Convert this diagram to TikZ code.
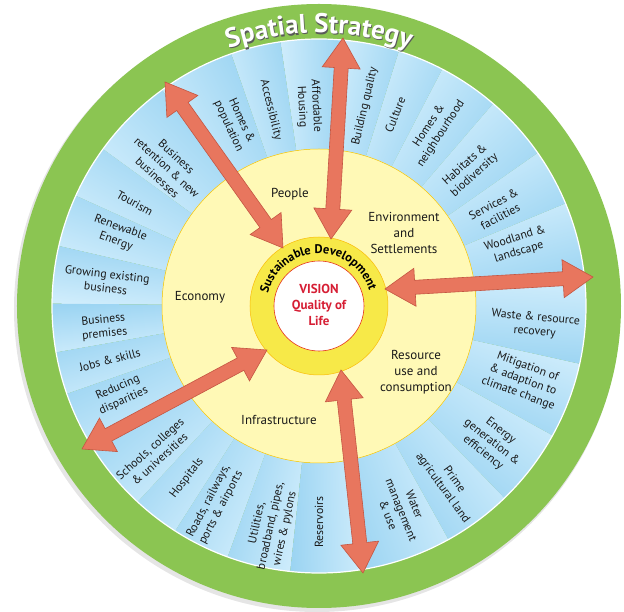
\documentclass[tikz,border=0pt]{standalone}
\usepackage{fontspec}
\setmainfont{PT Sans}
\usepackage{tikz}
\usetikzlibrary{calc}
\usetikzlibrary{decorations.text}

\definecolor{ringgreen}{RGB}{139,197,82}
\definecolor{ringblue}{RGB}{155,212,242}
\definecolor{ringbluelight}{RGB}{208,237,252}
\definecolor{paleyellow}{RGB}{255,249,182}
\definecolor{coreyellow}{RGB}{247,233,72}
\definecolor{arrowfill}{RGB}{232,118,94}
\definecolor{arrowline}{RGB}{196,86,66}
\definecolor{visionred}{RGB}{214,30,52}

\newcommand{\bigarrow}[2]{%
  \filldraw[fill=arrowfill, draw=arrowline, line width=0.6pt]
    (#1) -- ($(#1)!30pt!(#2)!19pt!-90:(#2)$) -- ($(#1)!30pt!(#2)!7pt!-90:(#2)$)
    -- ($(#2)!30pt!(#1)!7pt!90:(#1)$) -- ($(#2)!30pt!(#1)!19pt!90:(#1)$)
    -- (#2) -- ($(#2)!30pt!(#1)!19pt!-90:(#1)$) -- ($(#2)!30pt!(#1)!7pt!-90:(#1)$)
    -- ($(#1)!30pt!(#2)!7pt!90:(#2)$) -- ($(#1)!30pt!(#2)!19pt!90:(#2)$) -- cycle;}

\begin{document}
\begin{tikzpicture}[x=1pt, y=1pt,
    blurb/.style={font=\fontsize{11.8}{14.2}\selectfont, align=center, text=black!90},
    theme/.style={font=\fontsize{13}{15.8}\selectfont, align=center, text=black!90}]
    \useasboundingbox (-319,-306) rectangle (305,306);

    \fill[black!10] (-2,-3) circle (303);
    \fill[ringgreen] (0,0) circle (302);
    \foreach \s/\e in {-80/-61, -61/-46, -46/-29, -29/-12.5, -12.5/6, 6/22.6,
        22.6/35, 35/49.3, 49.3/62.5, 62.5/72.6, 72.6/85, 85/98.3, 98.3/109.2,
        109.2/126, 126/144, 144/155.6, 155.6/167, 167/179.5, 179.5/190,
        190/199.2, 199.2/213, 213/227.2, 227.2/237.4, 237.4/250, 250/263.8,
        263.8/280} {
        \pgfmathsetmacro{\m}{(\s+\e)/2}
        \shade[top color=ringbluelight, bottom color=ringblue, shading angle=\m]
            (\s:157) arc[start angle=\s, end angle=\e, radius=157]
            -- (\e:267) arc[start angle=\e, end angle=\s, radius=267] -- cycle;
    }
    \draw[white, line width=1.2pt] (0,0) circle (267);
    \filldraw[fill=paleyellow, draw=yellow!60!orange, line width=0.5pt] (0,0) circle (157);
    \filldraw[fill=coreyellow, draw=yellow!50!orange, line width=0.5pt] (0,0) circle (69);
    \filldraw[fill=white, draw=red!60!brown, line width=0.6pt] (0,0) circle (45);

    \node[font=\fontsize{13}{16}\selectfont\bfseries, text=visionred, align=center] (vision) at (0,1) {VISION\\Quality of\\Life};
    \path[decorate, decoration={text along path, text align=center,
        text={|\fontsize{12.5}{13}\selectfont\bfseries|Sustainable Development}}]
        (176:52.5) arc[start angle=176, end angle=7, radius=52.5];

    \node[theme] (people) at (-29,112) {People};
    \node[theme] (env) at (85,73) {Environment\\and\\Settlements};
    \node[theme] (economy) at (-119,9) {Economy};
    \node[theme] (resource) at (97,-66) {Resource\\use and\\consumption};
    \node[theme] (infra) at (-40,-114) {Infrastructure};

    \foreach \a/\r/\t [count=\i] in {-5/217/{Waste \& resource\\recovery},
        17/207/{Woodland \&\\landscape}, 28.3/202/{Services \&\\facilities},
        42/203/{Habitats \&\\biodiversity}, 56.6/211/{Homes \&\\neighbourhood},
        68.3/206/{Culture}, 77/205/{Building quality},
        -20/217/{Mitigation of\\\& adaption to\\climate change},
        -38.2/220/{Energy\\generation \&\\efficiency},
        -54/220/{Prime\\agricultural land}, -68/220/{Water\\management\\\& use}}
        \node[blurb, rotate=\a] (right-\i) at (\a:\r) {\t};

    \foreach \a/\r/\t [count=\i] in {92.9/200/{Affordable\\Housing},
        103.8/202/{Accessibility}, 114.7/201/{Homes \&\\population},
        137.6/206/{Business\\retention \& new\\businesses}, 150.8/211/{Tourism},
        160.5/213/{Renewable\\Energy}, 173.3/214/{Growing existing\\business},
        185.6/216/{Business\\premises}, 194.5/216/{Jobs \& skills},
        204/217/{Reducing\\disparities}, 222/221/{Schools, colleges\\\& universities},
        232.5/217/{Hospitals}, 242.3/224/{Roads, railways,\\ports \& airports},
        257.7/225/{Utilities,\\broadband, pipes,\\wires \& pylons},
        270/216/{Reservoirs}}
        \node[blurb, rotate=\a-180] (left-\i) at (\a:\r) {\t};

    \coordinate (core-n) at (12,67);
    \coordinate (rim-n) at (24,268);
    \coordinate (core-nw) at (-36,58);
    \coordinate (rim-nw) at (-154,224);
    \coordinate (core-e) at (66,17);
    \coordinate (rim-e) at (274,29);
    \coordinate (core-sw) at (-52,-44);
    \coordinate (rim-sw) at (-237,-143);
    \coordinate (core-s) at (22,-64);
    \coordinate (rim-s) at (44,-267);
    \bigarrow{core-n}{rim-n}
    \bigarrow{core-nw}{rim-nw}
    \bigarrow{core-e}{rim-e}
    \bigarrow{core-sw}{rim-sw}
    \bigarrow{core-s}{rim-s}

    \path[shift={(0.9,-1.2)}, decorate, decoration={text along path, text align=center,
        text={|\fontsize{27}{27}\selectfont\bfseries\color{black!65}|Spatial Strategy}}]
        (125:273) arc[start angle=125, end angle=55, radius=273];
    \path[decorate, decoration={text along path, text align=center,
        text={|\fontsize{27}{27}\selectfont\bfseries\color{white}|Spatial Strategy}}]
        (125:273) arc[start angle=125, end angle=55, radius=273];
\end{tikzpicture}
\end{document}
